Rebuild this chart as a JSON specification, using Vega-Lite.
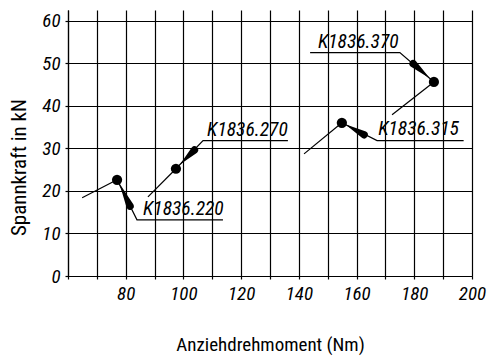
{
  "$schema": "https://vega.github.io/schema/vega-lite/v6.json",
  "width": 404,
  "height": 266,
  "autosize": "none",
  "padding": {"left": 68, "top": 10, "right": 17, "bottom": 82},
  "background": "white",
  "config": {
    "view": {"stroke": null},
    "font": "Roboto Condensed, DejaVu Sans Condensed, Liberation Sans, sans-serif",
    "axis": {
      "grid": true,
      "gridColor": "black",
      "gridWidth": 1.2,
      "gridOpacity": 1,
      "domainColor": "black",
      "domainWidth": 1.2,
      "tickColor": "black",
      "tickWidth": 1.2,
      "tickSize": 3,
      "labelFont": "Roboto Condensed, DejaVu Sans Condensed, Liberation Sans, sans-serif",
      "labelFontStyle": "italic",
      "labelFontSize": 19,
      "labelColor": "black",
      "labelOverlap": false,
      "titleFont": "Roboto Condensed, DejaVu Sans Condensed, Liberation Sans, sans-serif",
      "titleFontWeight": "normal",
      "titleColor": "black"
    }
  },
  "datasets": {
    "segs": [
      {"g": "r220", "o": 0, "x": 64.9, "y": 18.4},
      {"g": "r220", "o": 1, "x": 77.0, "y": 22.6},
      {"g": "a220", "o": 0, "x": 77.0, "y": 22.6},
      {"g": "a220", "o": 1, "x": 83.9, "y": 13.2},
      {"g": "a220", "o": 2, "x": 113.7, "y": 13.2},
      {"g": "r270", "o": 0, "x": 87.7, "y": 18.6},
      {"g": "r270", "o": 1, "x": 97.4, "y": 25.2},
      {"g": "a270", "o": 0, "x": 97.4, "y": 25.2},
      {"g": "a270", "o": 1, "x": 106.8, "y": 31.8},
      {"g": "a270", "o": 2, "x": 136.2, "y": 31.8},
      {"g": "r315", "o": 0, "x": 141.8, "y": 28.7},
      {"g": "r315", "o": 1, "x": 154.9, "y": 36.0},
      {"g": "a315", "o": 0, "x": 154.9, "y": 36.0},
      {"g": "a315", "o": 1, "x": 167.1, "y": 31.8},
      {"g": "a315", "o": 2, "x": 197.1, "y": 31.8},
      {"g": "r370", "o": 0, "x": 172.3, "y": 37.9},
      {"g": "r370", "o": 1, "x": 186.8, "y": 45.6},
      {"g": "a370", "o": 0, "x": 186.8, "y": 45.6},
      {"g": "a370", "o": 1, "x": 175.0, "y": 52.5},
      {"g": "a370", "o": 2, "x": 143.9, "y": 52.5}
    ],
    "arrows": [
      {"g": "h220", "end": "tip", "o": 0, "x": 78.0, "y": 21.5},
      {"g": "h220", "end": "base", "o": 1, "x": 81.5, "y": 16.4},
      {"g": "h270", "end": "tip", "o": 0, "x": 99.1, "y": 26.4},
      {"g": "h270", "end": "base", "o": 1, "x": 103.8, "y": 29.6},
      {"g": "h315", "end": "tip", "o": 0, "x": 156.5, "y": 35.5},
      {"g": "h315", "end": "base", "o": 1, "x": 162.6, "y": 33.2},
      {"g": "h370", "end": "tip", "o": 0, "x": 185.1, "y": 46.6},
      {"g": "h370", "end": "base", "o": 1, "x": 179.6, "y": 49.9}
    ],
    "points": [
      {"label": "K1836.220", "x": 77.0, "y": 22.6},
      {"label": "K1836.270", "x": 97.4, "y": 25.2},
      {"label": "K1836.315", "x": 154.9, "y": 36.0},
      {"label": "K1836.370", "x": 186.8, "y": 45.6}
    ],
    "labels": [
      {"label": "K1836.220", "x": 86.0, "y": 14.4},
      {"label": "K1836.270", "x": 108.2, "y": 32.9},
      {"label": "K1836.315", "x": 167.5, "y": 33.2},
      {"label": "K1836.370", "x": 146.6, "y": 53.6}
    ]
  },
  "layer": [
    {
      "data": {"name": "segs"},
      "mark": {"type": "line", "color": "black", "strokeWidth": 1.2},
      "encoding": {
        "x": {
          "field": "x", "type": "quantitative",
          "scale": {"domain": [60, 200], "nice": false, "zero": false},
          "axis": {
            "title": "Anziehdrehmoment (Nm)",
            "titleFontSize": 19,
            "grid": true,
            "tickCount": 14,
            "labelExpr": "(datum.value >= 80 && datum.value % 20 == 0) ? datum.label : ''",
            "labelPadding": 5,
            "titlePadding": 32,
            "labelFlush": false
          }
        },
        "y": {
          "field": "y", "type": "quantitative",
          "scale": {"domain": [0, 62.5], "nice": false, "zero": false},
          "axis": {
            "title": "Spannkraft in kN",
            "titleFontSize": 21,
            "titleY": 157,
            "grid": true,
            "values": [0, 10, 20, 30, 40, 50, 60],
            "labelPadding": 5,
            "titlePadding": 12,
            "labelFlush": false
          }
        },
        "detail": {"field": "g"},
        "order": {"field": "o"}
      }
    },
    {
      "data": {"name": "arrows"},
      "mark": {"type": "trail", "color": "black"},
      "encoding": {
        "x": {"field": "x", "type": "quantitative"},
        "y": {"field": "y", "type": "quantitative"},
        "detail": {"field": "g"},
        "order": {"field": "o"},
        "size": {
          "field": "end", "type": "nominal",
          "scale": {"domain": ["tip", "base"], "range": [0.5, 7.5]},
          "legend": null
        }
      }
    },
    {
      "data": {"name": "points"},
      "mark": {"type": "circle", "color": "black", "opacity": 1, "size": 105},
      "encoding": {
        "x": {"field": "x", "type": "quantitative"},
        "y": {"field": "y", "type": "quantitative"}
      }
    },
    {
      "data": {"name": "labels"},
      "mark": {"type": "text", "align": "left", "baseline": "alphabetic", "font": "Roboto Condensed, DejaVu Sans Condensed, Liberation Sans, sans-serif", "fontStyle": "italic", "fontSize": 19.5, "color": "black"},
      "encoding": {
        "x": {"field": "x", "type": "quantitative"},
        "y": {"field": "y", "type": "quantitative"},
        "text": {"field": "label"}
      }
    }
  ]
}
